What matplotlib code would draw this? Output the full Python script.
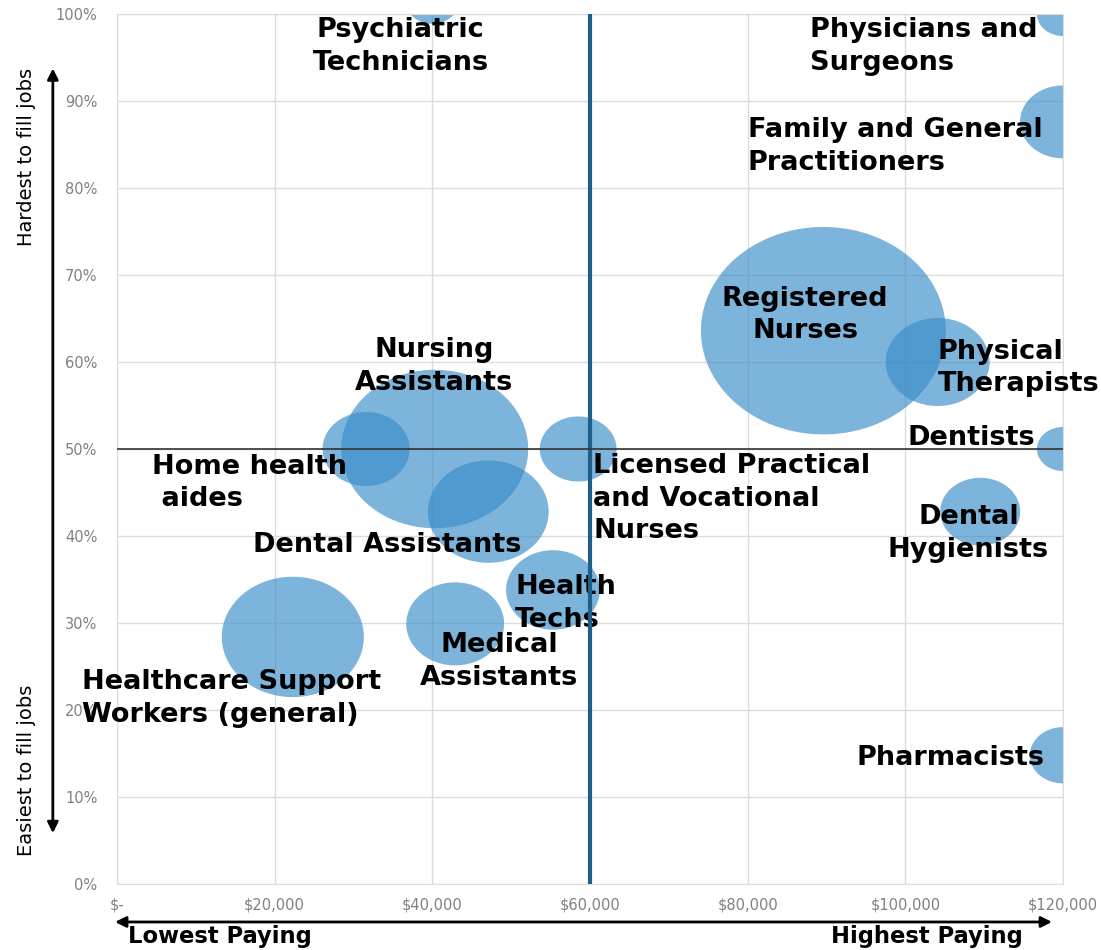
import matplotlib
matplotlib.use("Agg")
import matplotlib.pyplot as plt
import numpy as np
from matplotlib.path import Path
from matplotlib.ticker import FuncFormatter

# Occupations: median pay (USD), share hard to fill (%), bubble size
occupations = [
    "Registered Nurses", "Nursing Assistants", "Home health aides",
    "Dental Assistants", "Licensed Practical and Vocational Nurses",
    "Health Techs", "Medical Assistants", "Healthcare Support Workers (general)",
    "Psychiatric Technicians", "Physicians and Surgeons",
    "Family and General Practitioners", "Physical Therapists", "Dentists",
    "Dental Hygienists", "Pharmacists",
]
salary = [89600, 40300, 31600, 47100, 58500, 55300, 42900, 22300,
          40000, 120000, 120000, 104100, 120000, 109500, 120000]
hard_to_fill = [63.6, 50.0, 50.0, 42.8, 50.0, 33.8, 29.9, 28.4,
                101.5, 100.0, 87.6, 60.0, 50.0, 42.8, 14.8]
bubble_size = [600, 350, 76, 146, 59, 88, 96, 202,
               29, 27, 74, 108, 27, 64, 44]

x_ticks = [0, 20000, 40000, 60000, 80000, 100000, 120000]
y_ticks = [0, 10, 20, 30, 40, 50, 60, 70, 80, 90, 100]

# label text, x, y, alignment (placement of the annotation only)
labels = [
    ("Registered\nNurses", 87300, 65.4, "center"),
    ("Nursing\nAssistants", 40200, 59.5, "center"),
    ("Home health\n aides", 4400, 46.1, "left"),
    ("Dental Assistants", 34300, 39.0, "center"),
    ("Licensed Practical\nand Vocational\nNurses", 60400, 44.3, "left"),
    ("Health\nTechs", 50500, 32.2, "left"),
    ("Medical\nAssistants", 48500, 25.6, "center"),
    ("Healthcare Support\nWorkers (general)", -4400, 21.3, "left"),
    ("Psychiatric\nTechnicians", 36000, 96.3, "center"),
    ("Physicians and\nSurgeons", 87900, 96.3, "left"),
    ("Family and General\nPractitioners", 80000, 84.8, "left"),
    ("Physical\nTherapists", 104100, 59.3, "left"),
    ("Dentists", 100300, 51.3, "left"),
    ("Dental\nHygienists", 108000, 40.3, "center"),
    ("Pharmacists", 105700, 14.5, "center"),
]

BUBBLE = "#388cc9"

# slightly wide ellipse marker, like the original bubbles
t = np.linspace(0, 2 * np.pi, 100)
ellipse = Path(np.column_stack([1.18 * np.cos(t), np.sin(t)]), closed=True)

fig = plt.figure(figsize=(11.01, 9.5), dpi=100)
ax = fig.add_axes([0.10627, 0.06947, 0.8592, 0.91579])

bubbles = ax.scatter(salary, hard_to_fill, s=np.array(bubble_size) * 51.8,
                     marker=ellipse, color=BUBBLE, alpha=0.65,
                     linewidths=0, zorder=2)
bubbles.set_clip_path(ax.patch)

for text, lx, ly, ha in labels:
    ax.text(lx, ly, text, ha=ha, va="center", fontsize=19.5,
            fontweight="bold", family="DejaVu Sans", linespacing=1.34,
            color="black", zorder=3, clip_on=False)

ax.axvline(60000, color="#1f5f8b", lw=3, zorder=4)
ax.axhline(50, color="#333333", lw=1.2, zorder=4)

ax.set_xlim(0, 120000)
ax.set_ylim(0, 100)
ax.set_xticks(x_ticks)
ax.set_yticks(y_ticks)
ax.xaxis.set_major_formatter(FuncFormatter(
    lambda v, p: "$-" if v == 0 else "${:,.0f}".format(v)))
ax.yaxis.set_major_formatter(FuncFormatter(lambda v, p: "{:.0f}%".format(v)))
ax.tick_params(length=0, labelsize=10.5, labelcolor="#808080")
ax.tick_params(axis="y", pad=14)
ax.tick_params(axis="x", pad=10)
ax.grid(True, color="#dcdcdc", lw=1, zorder=0)
ax.set_axisbelow(True)
for sp in ax.spines.values():
    sp.set_color("#dcdcdc")

# direction arrows and captions outside the plot
arrow = dict(arrowstyle="<|-|>", lw=2, color="black", mutation_scale=16,
             shrinkA=0, shrinkB=0)
ax.annotate("", xy=(0.048, 0.928), xytext=(0.048, 0.123),
            xycoords="figure fraction", textcoords="figure fraction",
            arrowprops=arrow, annotation_clip=False)
ax.annotate("", xy=(0.1045, 0.0295), xytext=(0.9555, 0.0295),
            xycoords="figure fraction", textcoords="figure fraction",
            arrowprops=arrow, annotation_clip=False)

fig.text(0.024, 0.835, "Hardest to fill jobs", rotation=90, ha="center",
         va="center", fontsize=14)
fig.text(0.024, 0.189, "Easiest to fill jobs", rotation=90, ha="center",
         va="center", fontsize=14)
fig.text(0.1998, 0.0137, "Lowest Paying", ha="center", va="center",
         fontsize=16.3, fontweight="bold")
fig.text(0.842, 0.0137, "Highest Paying", ha="center", va="center",
         fontsize=16.3, fontweight="bold")

fig.savefig("out.png", dpi=100)
